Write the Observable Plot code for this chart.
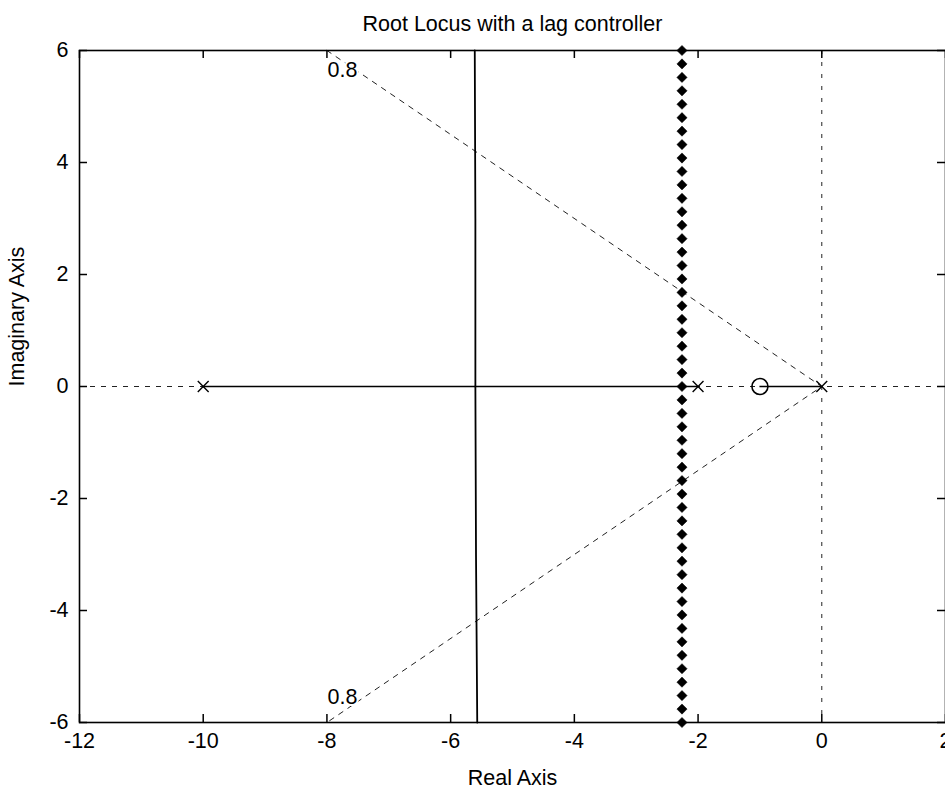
<!DOCTYPE html>
<html>
<head>
<meta charset="utf-8">
<script src="https://cdn.jsdelivr.net/npm/d3@7"></script>
<script src="https://cdn.jsdelivr.net/npm/@observablehq/plot@0.6"></script>
<style>
  html, body { margin: 0; padding: 0; background: #fff; }
</style>
</head>
<body>
<div id="chart"></div>
<script>
// ---- data ----
const titleText = "Root Locus with a lag controller";
const xLabel = "Real Axis";
const yLabel = "Imaginary Axis";
const xTicks = [-12, -10, -8, -6, -4, -2, 0, 2];
const yTicks = [-6, -4, -2, 0, 2, 4, 6];

const poles = [-10, -2, 0];          // "x" markers on the real axis
const zeros = [-1];                  // "o" marker
// real-axis locus segments (solid)
const realSegStart = [-10, -1];
const realSegEnd = [-2, 0];
// complex branches leaving the breakaway point
const branchUpX = [-5.6, -5.6, -5.61];
const branchUpY = [0, 3, 6];
const branchDownX = [-5.6, -5.59, -5.57];
const branchDownY = [0, -3, -6];
// damping-ratio (0.8) grid lines
const zetaX = [-8, 0, -8];
const zetaY = [6, 0, -6];
const zetaLabels = ["0.8", "0.8"];
const zetaLabelX = [-7.75, -7.75];
const zetaLabelY = [5.65, -5.55];
// diamond markers (design region boundary)
const diamondX = -2.26;
const diamondY = [6.00, 5.76, 5.52, 5.28, 5.04, 4.80, 4.56, 4.32, 4.08, 3.84, 3.60, 3.36, 3.12,
  2.88, 2.64, 2.40, 2.16, 1.92, 1.68, 1.44, 1.20, 0.96, 0.72, 0.48, 0.24, 0.00,
  -0.24, -0.48, -0.72, -0.96, -1.20, -1.44, -1.68, -1.92, -2.16, -2.40, -2.64, -2.88,
  -3.12, -3.36, -3.60, -3.84, -4.08, -4.32, -4.56, -4.80, -5.04, -5.28, -5.52, -5.76, -6.00];

// ---- derived tables ----
const realSegs = realSegStart.map((s, i) => ({x1: s, x2: realSegEnd[i]}));
const branchUp = branchUpX.map((x, i) => ({x, y: branchUpY[i]}));
const branchDown = branchDownX.map((x, i) => ({x, y: branchDownY[i]}));
const zetaLine = zetaX.map((x, i) => ({x, y: zetaY[i]}));
const zetaText = zetaLabels.map((t, i) => ({t, x: zetaLabelX[i], y: zetaLabelY[i]}));
const diamonds = diamondY.map(y => ({x: diamondX, y}));

const W = 945, H = 789, mL = 79, mR = 0, mT = 50, mB = 67;
const innerW = W - mL - mR, innerH = H - mT - mB;
const FONT = "Liberation Sans, Arial, Helvetica, sans-serif";
const FS = 21.5;
const tick = 8;

const chart = Plot.plot({
  width: W, height: H,
  marginLeft: mL, marginRight: mR, marginTop: mT, marginBottom: mB,
  x: {domain: [-12, 2]},
  y: {domain: [-6, 6]},
  style: {fontFamily: FONT, fontSize: FS + "px", background: "white", color: "black"},
  marks: [
    // zero-axis grid lines (dashed)
    Plot.ruleY([0], {stroke: "#222", strokeWidth: 1, strokeDasharray: "5,6"}),
    Plot.ruleX([0], {stroke: "#222", strokeWidth: 1, strokeDasharray: "4,8"}),
    // damping ratio line
    Plot.line(zetaLine, {x: "x", y: "y", stroke: "#222", strokeWidth: 1, strokeDasharray: "5,6"}),
    Plot.text(zetaText, {x: "x", y: "y", text: "t", fontSize: FS, fill: "black", stroke: "white", strokeWidth: 4, paintOrder: "stroke"}),
    // real-axis locus
    Plot.ruleY(realSegs, {y: () => 0, x1: "x1", x2: "x2", stroke: "black", strokeWidth: 1.4}),
    // complex branches
    Plot.line(branchUp, {x: "x", y: "y", stroke: "black", strokeWidth: 1.8}),
    Plot.line(branchDown, {x: "x", y: "y", stroke: "black", strokeWidth: 1.8}),
    // diamonds
    Plot.dot(diamonds, {x: "x", y: "y", symbol: "diamond2", r: 4.6, fill: "black", stroke: "black", strokeWidth: 0.5}),
    // poles and zeros
    Plot.dot(poles, {x: d => d, y: () => 0, symbol: "times", r: 5, stroke: "black", strokeWidth: 1.4}),
    Plot.dot(zeros, {x: d => d, y: () => 0, symbol: "circle", r: 8, stroke: "black", fill: "none", strokeWidth: 1.6}),
    // inward ticks
    Plot.ruleX(xTicks, {x: d => d, insetTop: innerH - tick, stroke: "black", strokeWidth: 1.5}),
    Plot.ruleX(xTicks, {x: d => d, insetBottom: innerH - tick, stroke: "black", strokeWidth: 1.5}),
    Plot.ruleY(yTicks, {y: d => d, insetLeft: innerW - tick, stroke: "black", strokeWidth: 1.5}),
    Plot.ruleY(yTicks, {y: d => d, insetRight: innerW - tick, stroke: "black", strokeWidth: 1.5}),
    Plot.frame({stroke: "black", strokeWidth: 1.6}),
    // axes tick labels
    Plot.axisX({ticks: xTicks, tickSize: 0, tickPadding: 10, label: null, tickFormat: d => String(d), fontSize: FS}),
    Plot.axisY({ticks: yTicks, tickSize: 0, tickPadding: 11, label: null, tickFormat: d => String(d), fontSize: FS}),
    // titles
    Plot.text([titleText], {frameAnchor: "top", dy: -35, fontSize: FS, fill: "black"}),
    Plot.text([xLabel], {frameAnchor: "bottom", dy: 62, fontSize: FS, fill: "black"}),
    Plot.text([yLabel], {frameAnchor: "left", dx: -62, rotate: -90, fontSize: FS, fill: "black"})
  ]
});
document.getElementById("chart").appendChild(chart);
</script>
</body>
</html>
